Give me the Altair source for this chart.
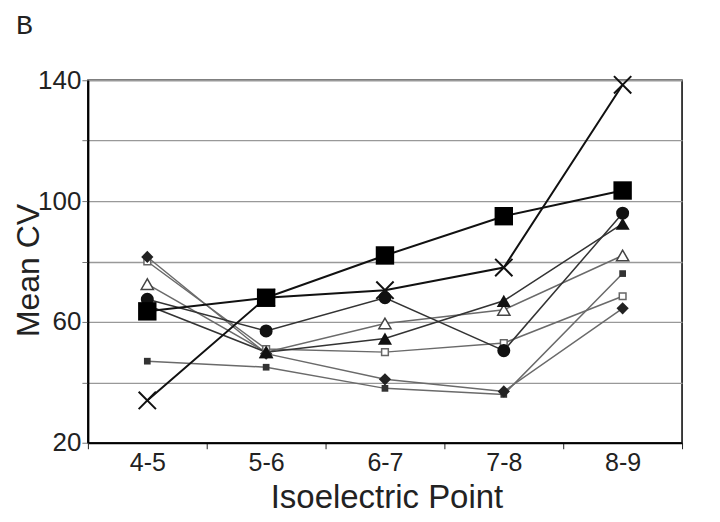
import altair as alt
import pandas as pd

categories = ["4-5", "5-6", "6-7", "7-8", "8-9"]

s_cross = [34, 68, 70.5, 78, 138.5]
s_bigsq = [63.5, 68, 82, 95, 103.5]
s_circle = [67.5, 57, 68, 50.5, 96]
s_filltri = [65.5, 50, 54.5, 67, 92.5]
s_opentri = [72.5, 50, 59.5, 64, 82]
s_opensq = [80, 51, 50, 53, 68.5]
s_diamond = [81.5, 49.5, 41, 37, 64.5]
s_smallsq = [47, 45, 38, 36, 76]

series = {
    "cross": s_cross,
    "bigsq": s_bigsq,
    "circle": s_circle,
    "filltri": s_filltri,
    "opentri": s_opentri,
    "opensq": s_opensq,
    "diamond": s_diamond,
    "smallsq": s_smallsq,
}

rows = []
for name, vals in series.items():
    for c, v in zip(categories, vals):
        rows.append({"series": name, "pI": c, "cv": v})
df = pd.DataFrame(rows)

X_PATH = "M-1,-1L1,1M-1,1L1,-1"

styles = {
    "smallsq": dict(lc="#6a6a6a", lw=1.5, shape="square", size=45, filled=True, fill="#333", stroke="#333"),
    "opensq": dict(lc="#6a6a6a", lw=1.5, shape="square", size=45, filled=False, fill="white", stroke="#666"),
    "diamond": dict(lc="#6a6a6a", lw=1.5, shape="diamond", size=150, filled=True, fill="#222", stroke="#444"),
    "opentri": dict(lc="#6a6a6a", lw=1.5, shape="triangle-up", size=150, filled=False, fill="white", stroke="#444"),
    "filltri": dict(lc="#333333", lw=1.5, shape="triangle-up", size=200, filled=True, fill="#111", stroke="#111"),
    "circle": dict(lc="#333333", lw=1.5, shape="circle", size=170, filled=True, fill="#111", stroke="#111"),
    "cross": dict(lc="#111111", lw=2, shape=X_PATH, size=300, filled=False, fill="none", stroke="#111"),
    "bigsq": dict(lc="#111111", lw=2, shape="square", size=340, filled=True, fill="#000", stroke="#000"),
}

x_enc = alt.X(
    "pI:N",
    sort=categories,
    title="Isoelectric Point",
    axis=alt.Axis(
        labelAngle=0,
        tickBand="extent",
        tickSize=6,
        tickColor="#222",
        labelPadding=2,
        labelFontSize=25,
        labelColor="#222",
        titleFontSize=33,
        titleFontWeight="normal",
        titleColor="#222",
        titleX=299,
        titleY=65,
        titleBaseline="alphabetic",
        domainColor="#000",
        domainWidth=2,
        grid=False,
    ),
)
y_enc = alt.Y(
    "cv:Q",
    title="Mean CV",
    scale=alt.Scale(domain=[20, 140], nice=False),
    axis=alt.Axis(
        values=[20, 40, 60, 80, 100, 120, 140],
        labelExpr="(datum.value - 20) % 40 == 0 ? datum.label : ''",
        tickSize=6,
        tickColor="#777",
        labelPadding=1,
        labelFontSize=26,
        labelColor="#222",
        titleFontSize=32,
        titleFontWeight="normal",
        titleColor="#222",
        titleX=-59,
        titleY=190,
        titleAngle=-90,
        titleBaseline="middle",
        domainColor="#000",
        domainWidth=2,
        grid=True,
        gridColor="#999",
        gridWidth=1.3,
    ),
)

base = alt.Chart(df)
lines = []
points = []
for name, st in styles.items():
    sub = base.transform_filter(alt.datum.series == name)
    lines.append(
        sub.mark_line(color=st["lc"], strokeWidth=st["lw"]).encode(x=x_enc, y=y_enc)
    )
    pt_kwargs = dict(shape=st["shape"], size=st["size"], opacity=1)
    if st["filled"]:
        pt_kwargs.update(filled=True, color=st["fill"])
    else:
        pt_kwargs.update(filled=False, stroke=st["stroke"],
                         fill=st["fill"] if st["fill"] != "none" else "transparent",
                         strokeWidth=2 if name == "cross" else 1.5)
    points.append(sub.mark_point(**pt_kwargs).encode(x=x_enc, y=y_enc))

chart = alt.layer(*lines, *points).properties(
    width=595,
    height=363,
    autosize=alt.AutoSizeParams(type="none"),
    padding={"left": 80, "top": 72, "right": 30, "bottom": 76},
    title=alt.TitleParams(
        text="B",
        anchor="start",
        frame="group",
        font="Liberation Mono",
        fontSize=28,
        fontWeight="normal",
        color="#222",
        baseline="alphabetic",
        dx=-72,
        offset=5,
    ),
).configure(font="Liberation Sans").configure_title(
    font="Liberation Mono", fontSize=28, fontWeight="normal", color="#222"
).configure_view(stroke="#000", strokeWidth=1.5)

chart.save("out.html", embed_options={"renderer": "svg", "actions": False})
